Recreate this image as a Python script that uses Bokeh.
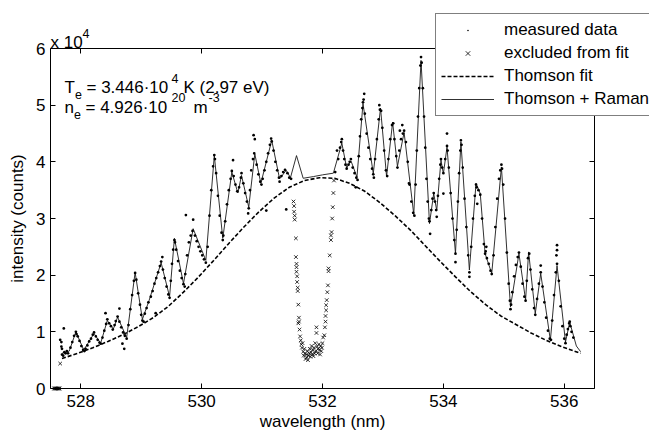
from bokeh.plotting import figure
from bokeh.models import (Legend, LegendItem, Label, LinearAxis, FixedTicker, Range1d)
from bokeh.embed import file_html
from bokeh.resources import INLINE

# ---------------- data (intensity in units of 10^4 counts) ----------------
x_ticks = [528, 530, 532, 534, 536]
y_ticks = [0, 1, 2, 3, 4, 5, 6]
x_limits = (527.5, 536.5)
y_limits = (0, 6)

# Thomson fit (dashed)
fit_wl = [527.69, 527.95, 528.20, 528.45, 528.70, 528.95, 529.20, 529.45, 529.70,
          529.95, 530.20, 530.45, 530.70, 530.95, 531.20, 531.45, 531.70, 531.95,
          532.20, 532.45, 532.70, 532.95, 533.20, 533.45, 533.70, 533.95, 534.20,
          534.45, 534.70, 534.95, 535.20, 535.45, 535.70, 535.95, 536.27]
fit_int = [0.53, 0.62, 0.72, 0.83, 0.95, 1.09, 1.25, 1.45, 1.70,
           1.97, 2.26, 2.56, 2.85, 3.12, 3.36, 3.55, 3.67, 3.72,
           3.71, 3.62, 3.48, 3.28, 3.05, 2.80, 2.52, 2.24, 1.97,
           1.71, 1.48, 1.28, 1.13, 0.98, 0.85, 0.74, 0.62]

# Thomson + Raman (solid)
tr_wl = [527.69, 527.81, 527.92, 528.05, 528.22, 528.33, 528.44, 528.54, 528.61, 528.76,
         528.90, 529.02, 529.13, 529.33, 529.47, 529.55, 529.70, 529.86, 530.07, 530.21,
         530.35, 530.50, 530.60, 530.66, 530.78, 530.88, 530.98, 531.16, 531.29, 531.40,
         531.47, 531.57, 531.68, 531.85, 532.00, 532.18, 532.32, 532.40, 532.47, 532.57,
         532.67, 532.84, 532.96, 533.06, 533.16, 533.24, 533.35, 533.51, 533.63, 533.77,
         533.84, 533.89, 533.96, 534.00, 534.06, 534.20, 534.29, 534.43, 534.54, 534.61,
         534.69, 534.80, 534.96, 535.11, 535.25, 535.36, 535.41, 535.52, 535.61, 535.77,
         535.88, 536.02, 536.09, 536.20, 536.27]
tr_int = [0.62, 0.66, 1.00, 0.68, 0.97, 0.80, 1.20, 1.05, 1.26, 0.90,
          2.05, 1.22, 1.55, 2.22, 1.62, 2.65, 1.85, 2.82, 2.26, 4.11,
          2.65, 3.82, 3.45, 3.76, 3.20, 4.14, 3.62, 4.38, 3.70, 3.85,
          3.72, 4.11, 3.71, 3.74, 3.77, 3.80, 4.33, 3.89, 4.02, 3.73,
          5.03, 3.79, 4.95, 3.74, 4.70, 3.92, 4.52, 3.07, 5.79, 2.91,
          3.44, 3.14, 4.03, 3.79, 4.26, 2.38, 4.35, 2.09, 3.62, 3.44,
          2.38, 2.03, 3.91, 1.44, 2.38, 1.56, 2.41, 1.32, 2.03, 0.85,
          2.17, 0.82, 1.17, 0.75, 0.65]

# measured data (dots)
meas_wl = [527.66, 527.68, 527.68, 527.69, 527.69, 527.71, 527.72, 527.73, 527.75, 527.77,
           527.79, 527.83, 527.86, 527.89, 527.92, 527.93, 527.95, 527.98, 528.01, 528.04,
           528.06, 528.08, 528.11, 528.14, 528.17, 528.20, 528.22, 528.25, 528.28, 528.31,
           528.33, 528.36, 528.39, 528.41, 528.42, 528.44, 528.47, 528.50, 528.53, 528.56,
           528.58, 528.61, 528.64, 528.64, 528.67, 528.69, 528.70, 528.72, 528.73, 528.76,
           528.79, 528.82, 528.85, 528.88, 528.90, 528.92, 528.95, 528.98, 529.00, 529.02,
           529.04, 529.06, 529.09, 529.12, 529.16, 529.19, 529.22, 529.24, 529.25, 529.28,
           529.31, 529.33, 529.35, 529.36, 529.39, 529.42, 529.45, 529.47, 529.49, 529.51,
           529.53, 529.55, 529.56, 529.58, 529.61, 529.64, 529.67, 529.70, 529.72, 529.73,
           529.74, 529.76, 529.79, 529.82, 529.85, 529.86, 529.89, 529.92, 529.95, 529.98,
           530.01, 530.04, 530.07, 530.10, 530.13, 530.16, 530.19, 530.21, 530.22, 530.24,
           530.27, 530.30, 530.33, 530.35, 530.36, 530.39, 530.42, 530.45, 530.48, 530.50,
           530.52, 530.53, 530.56, 530.59, 530.62, 530.65, 530.66, 530.69, 530.72, 530.75,
           530.77, 530.78, 530.80, 530.82, 530.85, 530.86, 530.87, 530.88, 530.91, 530.94,
           530.97, 530.99, 531.01, 531.04, 531.07, 531.07, 531.10, 531.13, 531.15, 531.16,
           531.19, 531.22, 531.25, 531.28, 531.29, 531.32, 531.35, 531.38, 531.40, 531.42,
           531.45, 531.48,
           532.21, 532.24, 532.26, 532.29, 532.31, 532.32, 532.34, 532.36, 532.38, 532.40,
           532.43, 532.45, 532.47, 532.50, 532.53, 532.55, 532.56, 532.58, 532.60, 532.62,
           532.64, 532.66, 532.67, 532.68, 532.69, 532.70, 532.73, 532.76, 532.79, 532.82,
           532.84, 532.85, 532.87, 532.90, 532.93, 532.94, 532.95, 532.97, 532.99, 533.02,
           533.05, 533.07, 533.09, 533.12, 533.15, 533.17, 533.19, 533.22, 533.24, 533.27,
           533.28, 533.30, 533.32, 533.33, 533.35, 533.38, 533.41, 533.43, 533.44, 533.47,
           533.50, 533.52, 533.54, 533.56, 533.58, 533.60, 533.62, 533.63, 533.64, 533.66,
           533.68, 533.70, 533.72, 533.74, 533.76, 533.77, 533.78, 533.80, 533.82, 533.84,
           533.86, 533.88, 533.89, 533.91, 533.93, 533.95, 533.96, 533.98, 534.00, 534.00,
           534.03, 534.06, 534.06, 534.07, 534.09, 534.12, 534.15, 534.18, 534.20, 534.20,
           534.22, 534.24, 534.26, 534.28, 534.29, 534.30, 534.32, 534.35, 534.38, 534.41,
           534.43, 534.43, 534.46, 534.49, 534.52, 534.54, 534.55, 534.56, 534.58, 534.61,
           534.64, 534.67, 534.69, 534.70, 534.71, 534.72, 534.75, 534.78, 534.80, 534.83,
           534.86, 534.89, 534.92, 534.94, 534.96, 534.97, 534.99, 535.02, 535.05, 535.08,
           535.10, 535.11, 535.12, 535.14, 535.17, 535.20, 535.23, 535.25, 535.28, 535.31,
           535.34, 535.36, 535.38, 535.40, 535.42, 535.44, 535.47, 535.50, 535.52, 535.55,
           535.58, 535.61, 535.61, 535.64, 535.67, 535.70, 535.73, 535.76, 535.78, 535.80,
           535.83, 535.86, 535.87, 535.88, 535.88, 535.88, 535.91, 535.94, 535.97, 536.00,
           536.02, 536.04, 536.06, 536.08, 536.09, 536.10, 536.12, 536.15]
meas_int = [0.86, 0.82, 0.74, 0.70, 0.60, 0.58, 1.06, 0.64, 0.62, 0.66,
            0.62, 0.72, 0.82, 0.93, 1.00, 0.96, 0.92, 0.84, 0.75, 0.68,
            0.66, 0.70, 0.76, 0.83, 0.88, 0.95, 0.99, 0.92, 0.86, 0.81,
            0.79, 0.90, 1.02, 1.33, 1.14, 1.22, 1.15, 1.10, 1.04, 1.12,
            1.19, 1.27, 1.41, 1.18, 1.08, 0.79, 0.99, 0.70, 0.93, 0.88,
            1.12, 1.40, 1.65, 1.90, 2.04, 1.92, 1.68, 1.48, 1.30, 1.20,
            1.18, 1.32, 1.42, 1.52, 1.62, 1.72, 1.85, 1.33, 1.95, 2.05,
            2.16, 2.24, 2.32, 2.10, 1.95, 1.80, 1.66, 1.60, 1.90, 2.20,
            2.45, 2.62, 2.58, 2.45, 2.25, 2.08, 1.95, 1.84, 1.80, 2.02,
            3.06, 2.35, 2.58, 2.70, 2.78, 2.98, 2.70, 2.60, 2.50, 2.42,
            2.35, 2.28, 2.22, 2.50, 3.05, 3.50, 3.92, 4.12, 4.05, 3.80,
            3.40, 3.05, 2.75, 2.62, 2.70, 2.95, 3.25, 3.50, 3.70, 3.84,
            4.03, 3.75, 3.60, 3.48, 3.55, 3.72, 3.80, 3.62, 3.45, 3.30,
            3.09, 3.18, 3.50, 3.85, 4.05, 4.47, 4.15, 4.40, 3.95, 3.78,
            3.65, 3.60, 3.70, 3.85, 4.00, 3.14, 4.15, 4.30, 4.41, 4.36,
            4.20, 4.00, 3.85, 3.72, 3.65, 3.75, 3.82, 3.86, 3.16, 3.80,
            3.72, 3.70,
            3.82, 4.20, 4.05, 4.25, 4.35, 4.40, 4.20, 4.05, 3.95, 3.88,
            3.95, 4.00, 4.05, 3.90, 3.80, 3.55, 3.72, 3.68, 4.10, 4.45,
            4.75, 4.95, 5.05, 5.10, 5.20, 4.85, 4.50, 4.25, 4.05, 3.88,
            3.78, 3.72, 4.05, 4.40, 4.75, 5.00, 4.92, 4.90, 4.60, 4.20,
            3.85, 3.75, 4.05, 4.40, 4.65, 4.68, 4.40, 4.10, 3.90, 4.20,
            4.55, 4.40, 4.65, 4.50, 4.55, 4.35, 4.00, 3.62, 3.60, 3.30,
            3.10, 3.05, 3.60, 4.20, 4.80, 5.30, 5.70, 5.85, 5.75, 5.30,
            4.80, 4.25, 3.70, 3.30, 3.00, 2.95, 2.73, 3.15, 3.35, 3.45,
            3.30, 3.15, 3.03, 3.40, 3.70, 3.95, 4.05, 3.90, 3.80, 3.44,
            4.05, 4.28, 4.50, 4.20, 3.90, 3.45, 3.00, 2.62, 2.38, 2.23,
            2.80, 3.30, 3.80, 4.20, 4.38, 4.30, 3.90, 3.35, 2.85, 2.35,
            2.05, 1.97, 2.50, 3.00, 3.40, 3.60, 3.55, 3.26, 3.50, 3.42,
            3.00, 2.55, 2.38, 2.42, 2.50, 2.30, 2.20, 2.08, 2.02, 2.35,
            2.85, 3.35, 3.70, 3.85, 3.95, 3.88, 3.60, 3.00, 2.40, 1.85,
            1.55, 1.40, 1.48, 1.70, 1.98, 2.18, 2.32, 2.40, 2.15, 1.85,
            1.62, 1.55, 1.90, 2.30, 2.38, 2.10, 1.75, 1.42, 1.30, 1.58,
            1.85, 2.05, 2.17, 1.80, 1.52, 1.25, 1.02, 0.88, 0.86, 1.20,
            1.65, 2.05, 2.35, 2.20, 2.44, 2.53, 1.90, 1.45, 1.10, 0.88,
            0.80, 0.95, 1.05, 1.15, 1.18, 1.10, 1.00, 0.90]

# excluded from fit (x marks)
excl_wl = [527.56, 527.57, 527.58, 527.59, 527.60, 527.61, 527.62, 527.63, 527.64, 527.65,
           527.66,
           531.52, 531.53, 531.53, 531.54, 531.54, 531.56, 531.56, 531.57, 531.57, 531.57,
           531.58, 531.58, 531.59, 531.59, 531.60, 531.61, 531.61, 531.60, 531.62, 531.63,
           531.64, 531.65, 531.66, 531.67, 531.68, 531.69, 531.70, 531.71, 531.72, 531.73,
           531.74, 531.75, 531.76, 531.77, 531.78, 531.79, 531.80, 531.81, 531.82, 531.83,
           531.84, 531.85, 531.86, 531.87, 531.88, 531.89, 531.90, 531.90, 531.91, 531.92,
           531.93, 531.94, 531.95, 531.96, 531.97, 531.98, 531.99, 532.00, 532.01,
           532.03, 532.04, 532.05, 532.05, 532.06, 532.06, 532.07, 532.08, 532.09, 532.10,
           532.10, 532.12, 532.14, 532.14, 532.15, 532.16, 532.17, 532.18, 532.19]
excl_int = [0.0, 0.0, 0.0, 0.0, 0.0, 0.0, 0.0, 0.0, 0.0, 0.0,
            0.44,
            3.30, 3.22, 3.12, 3.05, 2.98, 2.65, 2.32, 2.20, 2.14, 2.06,
            1.98, 1.88, 1.78, 1.72, 1.48, 1.25, 1.18, 1.15, 1.04, 0.92,
            0.85, 0.78, 0.72, 0.80, 0.65, 0.58, 0.70, 0.62, 0.52, 0.60,
            0.55, 0.66, 0.50, 0.58, 0.62, 0.70, 0.56, 0.64, 0.75, 0.60,
            0.68, 0.57, 0.72, 0.62, 0.80, 0.66, 0.98, 1.08, 0.74, 0.62,
            0.70, 0.78, 0.68, 0.60, 0.75, 0.66, 0.72, 0.80, 0.90,
            0.94, 1.08, 1.18, 1.28, 1.38, 1.47, 1.56, 1.70, 1.82, 2.07,
            2.12, 2.35, 2.62, 2.70, 2.76, 3.00, 3.20, 3.45, 3.67]

# ---------------- layout geometry (pixels) ----------------
W, H = 649, 434
AX_L, AX_R, AX_T, AX_B = 50, 594, 48, 388   # plot box edges on the canvas
sx = (AX_R - AX_L) / (x_limits[1] - x_limits[0])
sy = (AX_B - AX_T) / (y_limits[1] - y_limits[0])
xr = Range1d(x_limits[0] - AX_L / sx, x_limits[1] + (W - AX_R) / sx)
yr = Range1d(y_limits[0] - (H - AX_B) / sy, y_limits[1] + AX_T / sy)

FONT = "Liberation Sans"

p = figure(width=W, height=H, output_backend="svg", toolbar_location=None,
           x_range=xr, y_range=yr, x_axis_location=None, y_axis_location=None,
           title_location=None, min_border=0)
p.min_border_left = p.min_border_right = p.min_border_top = p.min_border_bottom = 0
p.grid.visible = False
p.outline_line_color = None
p.background_fill_color = "white"
p.border_fill_color = "white"

ax_bottom = LinearAxis(fixed_location=y_limits[0], bounds=x_limits,
                       ticker=FixedTicker(ticks=x_ticks),
                       axis_label="wavelength (nm)")
ax_top = LinearAxis(fixed_location=y_limits[1], bounds=x_limits,
                    ticker=FixedTicker(ticks=x_ticks),
                    major_label_overrides={t: "" for t in x_ticks})
ax_left = LinearAxis(fixed_location=x_limits[0], bounds=y_limits,
                     ticker=FixedTicker(ticks=y_ticks),
                     axis_label="intensity (counts)")
ax_right = LinearAxis(fixed_location=x_limits[1], bounds=y_limits,
                      ticker=FixedTicker(ticks=y_ticks),
                      major_label_overrides={t: "" for t in y_ticks})
p.add_layout(ax_bottom, "below")
p.add_layout(ax_top, "above")
p.add_layout(ax_left, "left")
p.add_layout(ax_right, "right")

for ax in [ax_bottom, ax_top, ax_left, ax_right]:
    ax.major_tick_in = 5
    ax.major_tick_out = 0
    ax.minor_tick_in = 0
    ax.minor_tick_out = 0
    ax.axis_line_color = "black"
    ax.axis_line_width = 1
    ax.major_tick_line_color = "black"
    ax.major_label_text_font = FONT
    ax.major_label_text_font_size = "17px"
    ax.major_label_text_color = "black"
    ax.major_label_standoff = 5
    ax.axis_label_text_font = FONT
    ax.axis_label_text_font_size = "17px"
    ax.axis_label_text_font_style = "normal"
    ax.axis_label_text_color = "black"
ax_bottom.major_label_standoff = 6
ax_bottom.axis_label_standoff = 2
ax_left.axis_label_standoff = 6

# ---------------- glyphs ----------------
r_fit = p.line(fit_wl, fit_int, line_color="black", line_width=1.6, line_dash="4 2")
r_tr = p.line(tr_wl, tr_int, line_color="#1a1a1a", line_width=0.9)
r_meas = p.scatter(meas_wl, meas_int, marker="dot", size=11,
                   line_color="black", fill_color="black")
r_excl = p.scatter(excl_wl, excl_int, marker="x", size=5,
                   line_color="black", line_width=0.8)

legend = Legend(items=[LegendItem(label="measured data", renderers=[r_meas]),
                       LegendItem(label="excluded from fit", renderers=[r_excl]),
                       LegendItem(label="Thomson fit", renderers=[r_fit]),
                       LegendItem(label="Thomson + Raman", renderers=[r_tr])],
                location=(435, H - 116))
legend.margin = 0
legend.padding = 5
legend.spacing = 1
legend.glyph_width = 53
legend.glyph_height = 16
legend.label_height = 22
legend.label_standoff = 10
legend.label_text_font = FONT
legend.label_text_font_size = "17px"
legend.label_text_color = "black"
legend.border_line_color = "black"
legend.border_line_width = 1
legend.background_fill_color = "white"
legend.background_fill_alpha = 1.0
p.add_layout(legend)


# ---------------- text annotations ----------------
def txt(text, px, py, size="17px"):
    # px, py: canvas-pixel position of the text's baseline start (from top-left)
    p.add_layout(Label(x=px, y=H - py, x_units="screen", y_units="screen",
                       text=text, text_font=FONT, text_font_size=size,
                       text_color="black", text_baseline="alphabetic",
                       text_align="left"))


SUB = "12.5px"
# multiplier above the y axis
txt("x 10", 50, 42)
txt("4", 82, 33, SUB)
# T_e line
txt("T", 64, 87)
txt("e", 74.5, 93.5, SUB)
txt("= 3.446\u00b710", 86, 87)
txt("4", 171, 78, SUB)
txt("K (2.97 eV)", 183, 87)
# n_e line
txt("n", 64, 107)
txt("e", 73.5, 113.5, SUB)
txt("= 4.926\u00b710", 85, 107)
txt("20", 171, 97, SUB)
txt("m", 193, 107)
txt("-3", 208, 97, SUB)

open("out.html", "w").write(file_html(p, INLINE))
